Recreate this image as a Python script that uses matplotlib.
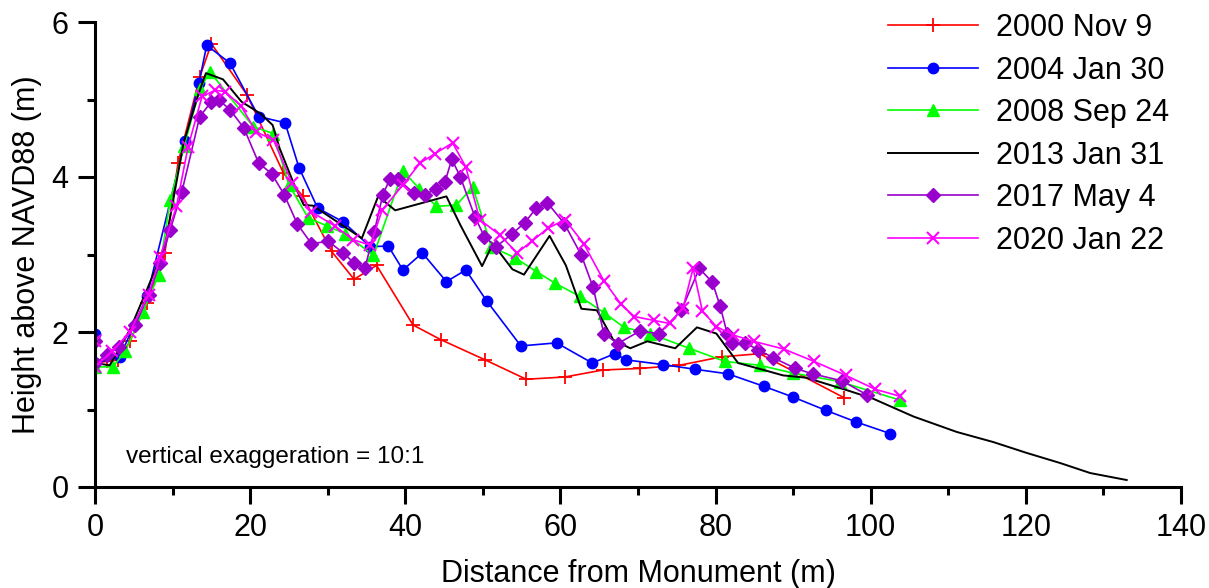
import matplotlib
matplotlib.use("Agg")
import matplotlib.pyplot as plt
from matplotlib.ticker import MultipleLocator

plt.rcParams['font.family'] = ['Liberation Sans', 'DejaVu Sans']

# 2000 Nov 9
red_x = [0, 1.5, 3.0, 4.5, 6.7, 9.0, 10.7, 13.5, 15.0, 19.6, 24.3, 26.8, 30.5, 33.4, 36.3, 41.0,
         44.6, 50.3, 55.6, 60.6, 65.5, 70.3, 75.3, 80.8, 85.7, 96.6]
red_y = [1.60, 1.62, 1.64, 1.88, 2.37, 3.02, 4.18, 5.29, 5.72, 5.06, 4.05, 3.75, 3.04, 2.68, 2.86, 2.09,
         1.90, 1.64, 1.39, 1.42, 1.51, 1.53, 1.57, 1.68, 1.72, 1.15]

# 2004 Jan 30
blue_x = [0, 0, 3.2, 6.7, 11.6, 13.4, 14.4, 17.4, 21.1, 24.5, 26.3, 28.7, 32.0, 35.5, 37.8, 39.7,
          42.2, 45.3, 47.8, 50.5, 54.9, 59.5, 64.1, 67.0, 68.5, 73.2, 77.3, 81.6, 86.2, 90.0, 94.2,
          98.1, 102.5]
blue_y = [1.97, 1.60, 1.68, 2.46, 4.46, 5.21, 5.70, 5.47, 4.78, 4.70, 4.12, 3.60, 3.42, 3.10, 3.11, 2.80,
          3.02, 2.65, 2.80, 2.40, 1.82, 1.86, 1.60, 1.72, 1.64, 1.58, 1.52, 1.46, 1.30, 1.16, 0.99,
          0.84, 0.69]

# 2008 Sep 24
green_x = [0, 2.3, 3.9, 6.2, 8.2, 9.7, 11.5, 13.5, 14.8, 20.4, 23.0, 25.0, 27.5, 29.9, 32.2, 35.9,
           39.7, 41.8, 44.0, 46.6, 48.7, 51.1, 54.1, 56.9, 59.3, 62.5, 65.6, 68.2, 71.5, 76.6, 81.2,
           85.7, 90.0, 96.0, 103.8]
green_y = [1.55, 1.55, 1.75, 2.26, 2.74, 3.70, 4.40, 5.13, 5.36, 4.65, 4.56, 3.90, 3.47, 3.37, 3.27, 2.99,
           4.08, 3.85, 3.62, 3.64, 3.87, 3.10, 2.96, 2.78, 2.63, 2.46, 2.25, 2.06, 1.98, 1.79, 1.62,
           1.57, 1.47, 1.36, 1.12]

# 2013 Jan 31
black_x = [0, 1.9, 4.5, 6.5, 9.0, 11.4, 13.3, 14.3, 16.5, 18.9, 21.3, 22.9, 23.8, 25.6, 26.9, 28.1,
           34.4, 36.5, 38.7, 45.3, 47.1, 49.9, 51.3, 53.8, 55.3, 58.6, 60.7, 62.7, 64.7, 66.8, 69.0,
           71.2, 74.8, 77.6, 80.1, 82.9, 86.2, 88.7, 91.7, 96.9, 100.3, 105.5, 111.1, 115.8, 120.1,
           124.4, 128.3, 133.0]
black_y = [1.60, 1.57, 2.03, 2.50, 3.10, 4.43, 5.06, 5.34, 5.26, 4.97, 4.82, 4.67, 4.37, 3.92, 3.64, 3.63,
           3.21, 3.75, 3.57, 3.75, 3.38, 2.85, 3.14, 2.81, 2.74, 3.24, 2.86, 2.30, 2.28, 1.90, 1.79,
           1.88, 1.79, 2.06, 1.98, 1.60, 1.51, 1.44, 1.41, 1.25, 1.14, 0.91, 0.71, 0.58, 0.44,
           0.31, 0.18, 0.09]

# 2017 May 4
purple_x = [0, 0, 1.5, 3.1, 5.2, 6.9, 8.4, 9.7, 11.2, 13.5, 15.0, 16.0, 17.4, 19.2, 21.1, 22.8,
            24.4, 26.1, 27.9, 30.1, 32.0, 33.4, 34.8, 36.0, 37.1, 38.0, 39.0, 41.1, 42.5, 44.0,
            45.1, 46.0, 47.1, 49.0, 50.2, 51.7, 53.7, 55.4, 56.9, 58.3, 60.5, 62.7, 64.2, 65.6,
            67.4, 70.2, 72.7, 75.6, 77.9, 79.6, 80.6, 81.5, 82.1, 83.8, 85.5, 87.4, 90.3, 92.5,
            96.3, 99.5]
purple_y = [1.88, 1.60, 1.70, 1.81, 2.09, 2.48, 2.89, 3.32, 3.81, 4.78, 4.97, 4.99, 4.87, 4.63, 4.18, 4.04,
            3.77, 3.39, 3.14, 3.17, 3.02, 2.89, 2.83, 3.29, 3.77, 3.97, 3.98, 3.79, 3.77, 3.85,
            3.93, 4.23, 4.00, 3.48, 3.23, 3.10, 3.26, 3.41, 3.60, 3.67, 3.40, 2.99, 2.58, 1.98,
            1.85, 2.01, 1.98, 2.28, 2.82, 2.64, 2.33, 1.98, 1.86, 1.86, 1.77, 1.67, 1.53, 1.46,
            1.37, 1.19]

# 2020 Jan 22
magenta_x = [0, 0, 2.2, 4.5, 6.9, 8.4, 10.5, 12.0, 13.8, 15.5, 16.8, 18.8, 20.8, 23.0, 25.4, 27.9,
             30.9, 33.3, 35.5, 37.0, 39.7, 41.9, 43.8, 46.1, 47.8, 49.6, 52.2, 54.4, 56.3, 58.4,
             60.6, 63.0, 65.6, 67.8, 69.5, 72.0, 74.1, 75.8, 77.1, 78.3, 80.1, 82.3, 84.9, 88.8,
             92.7, 96.8, 100.6, 103.8]
magenta_y = [1.88, 1.55, 1.75, 2.00, 2.48, 2.97, 3.62, 4.39, 5.04, 5.12, 5.10, 4.92, 4.58, 4.48, 3.92, 3.55,
             3.37, 3.19, 3.12, 3.57, 3.90, 4.18, 4.30, 4.44, 4.13, 3.45, 3.25, 3.02, 3.17, 3.34,
             3.45, 3.14, 2.66, 2.36, 2.20, 2.15, 2.11, 2.31, 2.82, 2.27, 2.07, 1.96, 1.88, 1.78,
             1.62, 1.44, 1.26, 1.17]

labels = ['2000 Nov 9', '2004 Jan 30', '2008 Sep 24', '2013 Jan 31', '2017 May 4', '2020 Jan 22']

fig = plt.figure(figsize=(12.09, 5.88), dpi=100)
ax = fig.add_axes([95 / 1209, 1 - 487 / 588, (1181 - 95) / 1209, (487 - 22) / 588])

lw = 1.2
ax.plot(red_x, red_y, color='#FF0000', lw=lw, marker='+', ms=10, mew=1.3, label=labels[0])
ax.plot(blue_x, blue_y, color='#0000FF', lw=lw, marker='o', ms=7.5, label=labels[1])
ax.plot(green_x, green_y, color='#00FF00', lw=lw, marker='^', ms=8, label=labels[2])
ax.plot(black_x, black_y, color='black', lw=1.4, label=labels[3])
ax.plot(purple_x, purple_y, color='#9900CC', lw=lw, marker='D', ms=7.5, label=labels[4])
ax.plot(magenta_x, magenta_y, color='#FF00FF', lw=lw, marker='x', ms=9, mew=1.5, label=labels[5])

ax.set_xlim(0, 140)
ax.set_ylim(0, 6)
ax.xaxis.set_major_locator(MultipleLocator(20))
ax.xaxis.set_minor_locator(MultipleLocator(10))
ax.yaxis.set_major_locator(MultipleLocator(2))
ax.yaxis.set_minor_locator(MultipleLocator(1))

for side in ['top', 'right']:
    ax.spines[side].set_visible(False)
for side in ['left', 'bottom']:
    ax.spines[side].set_linewidth(2.2)

ax.tick_params(which='major', direction='out', length=12, width=2.2, labelsize=22, pad=7)
ax.tick_params(which='minor', direction='out', length=6, width=2.2)

ax.set_xlabel('Distance from Monument (m)', fontsize=22, labelpad=11)
ax.set_ylabel('Height above NAVD88 (m)', fontsize=22, labelpad=7)

ax.text(4.0, 0.39, 'vertical exaggeration = 10:1', fontsize=17.5, va='center', ha='left')

ax.legend(loc='upper left', bbox_to_anchor=(888 / 1209, 1 - 13 / 588),
          bbox_transform=fig.transFigure, frameon=False, fontsize=22,
          handlelength=2.95, handletextpad=0.6, labelspacing=0.41,
          borderpad=0, borderaxespad=0)

fig.savefig('out.png', dpi=100)
